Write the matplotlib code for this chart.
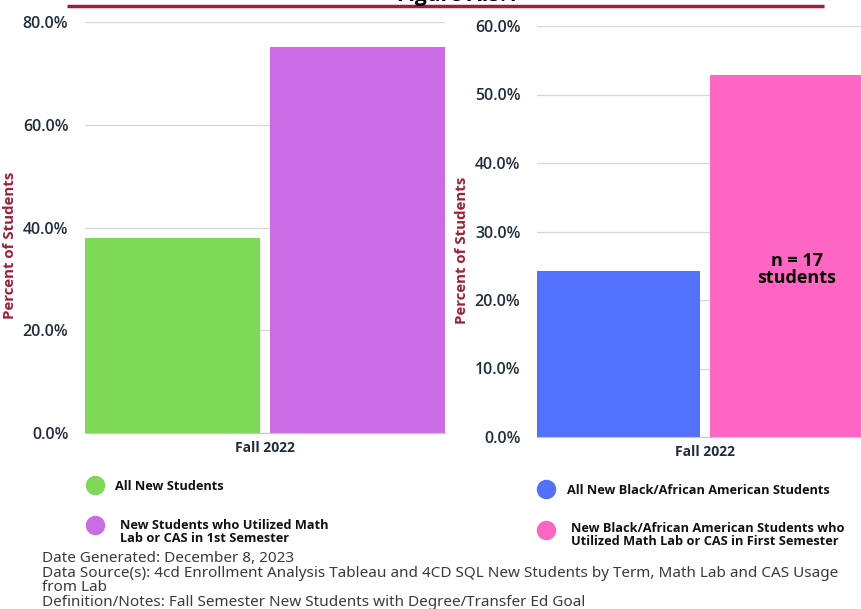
import matplotlib.pyplot as plt
from matplotlib.ticker import PercentFormatter

# Fall 2022 new students, share reaching the outcome (percent)
term = 'Fall 2022'
all_labels = ['All New Students',
              'New Students who Utilized Math\nLab or CAS in 1st Semester']
all_values = [37.9, 75.1]
all_colors = ['#7ed957', '#cb6ce6']

baa_labels = ['All New Black/African American Students',
              'New Black/African American Students who\nUtilized Math Lab or CAS in First Semester']
baa_values = [24.2, 52.8]
baa_colors = ['#5271ff', '#ff66c4']
baa_note = 'n = 17\nstudents'

footer = ('Date Generated: December 8, 2023\n'
          'Data Source(s): 4cd Enrollment Analysis Tableau and 4CD SQL New Students by Term, Math Lab and CAS Usage\n'
          'from Lab\n'
          'Definition/Notes: Fall Semester New Students with Degree/Transfer Ed Goal')

TICK = '#1f2d3d'
MAROON = '#a31d35'
W, H = 862, 609

plt.rcParams['font.family'] = ['Open Sans', 'DejaVu Sans']

fig = plt.figure(figsize=(W / 100, H / 100), dpi=100)


def px_axes(x0, y_top, x1, y_bot):
    return fig.add_axes([x0 / W, 1 - y_bot / H, (x1 - x0) / W, (y_bot - y_top) / H])


def bar_panel(ax, values, colors, ymax, step, width, label_xy):
    ax.bar([0, 1], values, width=width, color=colors, zorder=2)
    ax.set_xlim(-width / 2, 1 + width / 2)
    ax.set_ylim(0, ymax)
    ax.set_yticks(range(0, ymax + 1, step))
    ax.yaxis.set_major_formatter(PercentFormatter(decimals=1))
    ax.set_xticks([0.5])
    ax.set_xticklabels([term], fontsize=10, fontweight='bold', color=TICK)
    ax.tick_params(axis='y', length=0, pad=12, labelsize=11.5, labelcolor=TICK)
    for t in ax.get_yticklabels():
        t.set_fontweight('semibold')
    ax.tick_params(axis='x', length=0, pad=6)
    ax.grid(axis='y', color='#d9d9d9', linewidth=1, zorder=0)
    for side in ['top', 'right', 'left']:
        ax.spines[side].set_visible(False)
    ax.spines['bottom'].set_color('#c8c8c8')
    ax.set_ylabel('Percent of Students', fontsize=10.8, fontweight='bold', color=MAROON)
    ax.yaxis.set_label_coords(*label_xy)


ax1 = px_axes(85, 22, 445, 433)
bar_panel(ax1, all_values, all_colors, 80, 20, 0.944, (-0.189, 0.457))

ax2 = px_axes(537, 26, 873, 437)
bar_panel(ax2, baa_values, baa_colors, 60, 10, 0.942, (-0.202, 0.455))
ax2.text(1.03, 24.5, baa_note, ha='center', va='center', fontsize=13, fontweight='bold',
         color='black', linespacing=0.95, zorder=3)

# overlay in pixel coordinates for the header rule, legends and footer
ov = fig.add_axes([0, 0, 1, 1], zorder=-1)
ov.set_xlim(0, W)
ov.set_ylim(H, 0)
ov.axis('off')
ov.plot([67, 824], [6, 6], color=MAROON, linewidth=2.5, solid_capstyle='butt')
ov.text(458, -4, 'Figure AIS.1', ha='center', va='center', fontsize=15,
        fontweight='bold', color='black', clip_on=False)

# (marker x, marker y, text x, text y)
leg_pos = [(95, 485, 115, 486), (95, 525, 120, 532), (546, 489, 567, 490), (546, 530, 571, 535)]
for (cx, cy, tx, ty), lab, col in zip(leg_pos, all_labels + baa_labels, all_colors + baa_colors):
    ov.plot(cx, cy, 'o', markersize=13, color=col)
    ov.text(tx, ty, lab, ha='left', va='center', fontsize=9.2, fontweight='bold',
            color='#111111', linespacing=1.02)

ov.text(42, 551, footer, ha='left', va='top', fontsize=11, family=['Noto Sans', 'DejaVu Sans'],
        color='#3a3a3a', linespacing=0.97)

fig.savefig('out.png', dpi=100)
